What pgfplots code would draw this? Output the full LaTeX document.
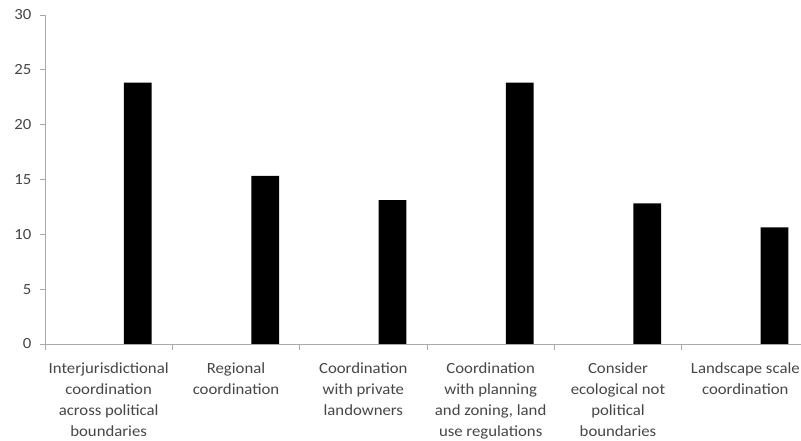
\documentclass[border=0pt]{standalone}
\usepackage{fontspec}
\setmainfont{Carlito}[FakeStretch=1.08]
\usepackage{pgfplots}
\pgfplotsset{compat=1.18}
\definecolor{axgray}{RGB}{170,170,170}
\definecolor{txtgray}{RGB}{70,70,70}
\begin{document}
\begin{tikzpicture}[x=1pt,y=1pt]
\begin{axis}[
  at={(0pt,0pt)}, anchor=south west,
  scale only axis,
  width=764pt, height=329pt,
  xmin=-0.5, xmax=5.5,
  ymin=0, ymax=30,
  ytick={0,5,...,30},
  xtick={0,...,5},
  xticklabels={
    {Interjurisdictional\\coordination\\across political\\boundaries},
    {Regional\\coordination},
    {Coordination\\with private\\landowners},
    {Coordination\\with planning\\and zoning, land\\use regulations},
    {Consider\\ecological not\\political\\boundaries},
    {Landscape scale\\coordination}},
  minor xtick={-0.5,0.5,...,5.5},
  major x tick style={draw=none},
  minor x tick style={draw=axgray, line width=0.8pt},
  minor tick length=6pt,
  axis x line=bottom, axis y line=left,
  axis line style={-, draw=axgray, line width=0.8pt},
  y tick style={draw=axgray, line width=0.8pt},
  tick align=outside,
  major tick length=5pt,
  ticklabel style={text=txtgray, font=\fontsize{15.5}{21}\selectfont},
  xticklabel style={align=center, yshift=-10pt},
  yticklabel style={xshift=-5pt},
  /pgf/number format/assume math mode=true,
  clip=false,
]
\addplot[ybar, bar width=0.218, fill=black, draw=none]
  coordinates {(0.229,23.83) (1.229,15.32) (2.229,13.13) (3.229,23.83) (4.229,12.83) (5.229,10.64)};
\end{axis}
\pgfresetboundingbox
\path[use as bounding box] (-45pt,-97pt) rectangle (756pt,344pt);
\end{tikzpicture}
\end{document}
